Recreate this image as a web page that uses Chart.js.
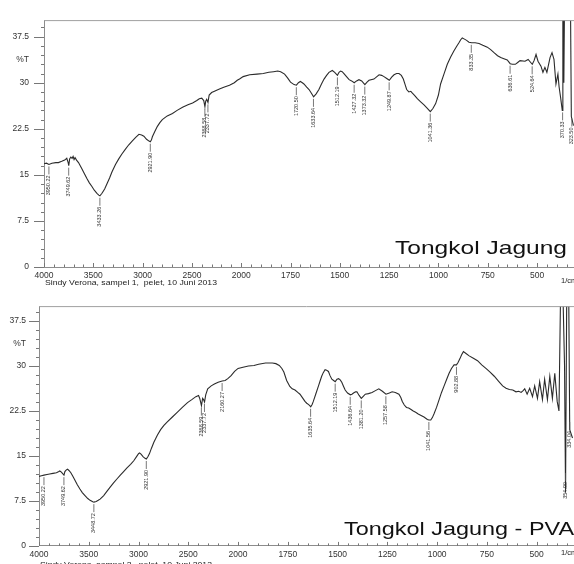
<!DOCTYPE html>
<html><head><meta charset="utf-8">
<script src="https://cdn.jsdelivr.net/npm/chart.js@4.4.1/dist/chart.umd.min.js"></script>
<style>
html,body{margin:0;padding:0;background:#fff;overflow:hidden;width:574px;height:564px}
canvas{position:absolute;left:0}
#c1{top:0}
#c2{top:288px}
</style></head><body>
<canvas id="c1" width="574" height="288"></canvas>
<canvas id="c2" width="574" height="276"></canvas>
<script>
// ---- axis labels ----
const xTickLabels = [4000,3500,3000,2500,2000,1750,1500,1250,1000,750,500];
const yTickLabels = [0,7.5,15,22.5,30,37.5];

// ---- Tongkol Jagung (top) ----
const topWn = [4000,3975,3950,3920,3880,3854,3820,3790,3769,3755,3749,3740,3728,3715,3705,3695,3685,3670,3650,3616,3590,3565,3540,3514,3490,3463,3445,3433,3412,3385,3360,3335,3310,3275,3242,3210,3174,3140,3106,3070,3037,3010,2987,2960,2935,2922,2910,2901,2875,2850,2825,2800,2750,2697,2650,2595,2540,2493,2450,2425,2400,2380,2368,2360,2350,2337,2325,2300,2260,2221,2170,2119,2070,2040,2017,1990,1957,1920,1888,1860,1836,1815,1800,1780,1765,1750,1732,1720,1710,1700,1690,1682,1668,1656,1644,1633,1620,1606,1593,1580,1567,1555,1538,1526,1512,1504,1496,1488,1479,1466,1453,1440,1427,1415,1403,1389,1373,1362,1352,1327,1312,1301,1288,1276,1262,1249,1237,1225,1212,1200,1188,1178,1168,1161,1150,1140,1132,1120,1107,1090,1073,1055,1041,1028,1014,1000,989,972,955,938,921,908,896,887,879,868,857,845,832,814,794,775,752,735,718,700,684,668,651,636,625,610,598,586,561,545,532,524,515,505,495,480,470,460,450,434,424,414,404,394,388,380,372,369,366,364,361,340,330,326,315];
const topT = [16.8,16.9,16.7,16.9,17.0,17.0,17.2,17.4,17.7,17.0,16.5,17.6,17.9,17.7,18.0,17.5,17.8,17.4,17.0,16.0,15.2,14.4,13.7,13.1,12.5,12.0,11.7,11.6,12.0,12.7,13.6,14.5,15.5,16.7,17.6,18.4,19.2,19.9,20.5,21.1,21.6,21.5,21.3,20.8,20.5,20.4,20.7,21.2,22.1,22.9,23.5,24.0,24.6,25.0,25.5,26.0,26.4,26.7,27.1,27.4,27.5,27.1,26.1,27.0,27.3,26.8,28.0,28.4,28.7,29.0,29.3,29.6,30.0,30.4,30.6,31.0,31.3,31.4,31.5,31.7,31.8,31.9,31.8,31.4,30.8,30.1,29.7,29.6,30.0,30.2,30.0,29.8,29.3,28.9,28.3,27.7,28.2,28.9,29.8,30.6,31.2,31.7,32.0,31.7,31.2,31.7,31.9,31.8,31.5,31.0,30.5,30.3,30.0,30.3,30.5,30.3,29.7,30.1,30.4,30.6,31.0,31.3,31.2,31.0,30.7,30.4,30.9,31.3,31.5,31.5,31.2,30.6,29.6,28.9,28.5,28.6,28.3,27.9,27.4,26.9,26.4,25.8,25.3,25.8,26.6,28.0,29.8,31.4,33.0,34.2,35.2,35.9,36.5,37.0,37.3,37.1,36.9,36.6,36.5,36.5,36.4,36.1,35.8,35.4,34.9,34.4,34.1,33.9,33.7,33.1,33.0,33.0,33.3,33.6,33.5,33.8,33.3,33.0,33.6,34.6,33.5,32.7,31.7,32.5,31.7,34.1,34.9,33.8,29.8,31.4,29.3,27.5,25.5,41.5,41.5,30.0,41.5,41.5,41.5,24.5,23.0];
const topPeakWn = [3950.22,3749.62,3433.26,2921.90,2368.58,2337.72,1720.50,1633.64,1512.19,1427.32,1373.32,1249.87,1041.36,833.35,636.61,524.64,370.33,323.50];
const topPeakT  = [16.7,16.5,11.6,20.4,26.1,26.8,29.6,27.7,31.2,30.0,29.7,30.4,25.3,36.5,33.1,33.0,25.5,24.5];

// ---- Tongkol Jagung - PVA (bottom) ----
const botWn = [4000,3975,3950,3920,3893,3860,3825,3800,3791,3775,3760,3749,3740,3730,3715,3707,3695,3680,3660,3640,3615,3589,3565,3538,3510,3487,3460,3448,3425,3405,3386,3350,3318,3285,3251,3215,3183,3150,3116,3080,3048,3020,3000,2990,2975,2955,2935,2922,2905,2890,2870,2846,2810,2778,2745,2711,2660,2609,2560,2508,2465,2424,2397,2385,2368,2356,2347,2337,2325,2305,2270,2238,2200,2160,2130,2103,2070,2035,2000,1975,1948,1920,1897,1862,1828,1810,1793,1780,1770,1756,1740,1728,1714,1700,1689,1676,1664,1655,1647,1640,1635,1628,1622,1610,1596,1588,1580,1572,1563,1555,1546,1538,1529,1520,1512,1503,1495,1487,1479,1470,1462,1450,1436,1428,1420,1410,1403,1392,1381,1370,1361,1345,1327,1310,1293,1275,1257,1240,1226,1210,1192,1183,1175,1165,1154,1143,1133,1120,1108,1095,1083,1066,1049,1041,1032,1024,1016,1003,990,978,965,952,940,928,915,903,895,886,877,868,855,839,818,797,776,755,734,713,692,671,654,637,620,604,590,578,568,560,548,535,521,510,496,485,471,460,446,434,421,409,397,388,380,368,360,355,349,339,334,320];
const botT = [11.6,11.7,11.8,11.9,12.0,12.1,12.2,12.4,12.5,12.3,12.0,11.8,12.4,12.6,12.8,12.7,12.5,12.2,11.6,11.0,10.2,9.5,8.9,8.4,7.9,7.6,7.35,7.3,7.4,7.6,7.8,8.4,9.1,9.8,10.5,11.2,11.8,12.4,13.0,13.6,14.2,14.9,15.4,15.5,15.3,14.9,14.6,14.5,14.9,15.4,16.3,17.3,18.5,19.4,20.1,20.7,21.5,22.3,23.1,23.9,24.4,24.9,25.1,24.6,23.4,24.6,24.4,24.0,25.2,26.2,26.7,27.0,27.3,27.5,27.6,27.9,28.4,29.1,29.6,29.8,30.0,30.1,30.3,30.5,30.5,30.4,30.1,29.6,29.0,27.6,26.6,26.2,26.0,25.6,25.3,24.7,24.1,23.8,23.6,23.4,23.2,23.6,24.1,25.3,26.7,27.5,28.3,28.9,29.4,29.3,29.1,28.4,27.8,27.6,27.4,27.8,27.9,27.7,27.3,26.6,26.0,25.5,25.2,25.3,25.5,25.7,25.7,25.1,24.6,25.0,25.3,25.4,25.6,25.9,26.2,25.8,25.3,25.5,25.7,25.6,25.3,24.8,24.1,23.5,23.1,23.0,22.8,22.5,22.3,22.0,21.8,21.5,21.1,21.0,21.0,21.4,22.0,23.1,24.4,25.6,26.7,27.8,28.8,29.6,30.2,30.2,30.6,31.2,31.9,32.4,32.1,31.7,31.3,30.9,30.2,29.6,29.0,28.3,27.5,26.7,26.3,26.1,26.0,25.7,25.8,25.6,25.9,26.2,25.3,26.3,24.9,26.7,24.6,27.4,24.4,27.8,24.4,28.3,24.6,28.8,24.1,22.5,42,42,30,8.9,42,42,19.4,18];
const botPeakWn = [3950.22,3749.62,3448.72,2921.90,2368.59,2337.72,2160.27,1635.64,1512.19,1436.64,1381.20,1257.58,1041.56,902.88,354.90,334.04];
const botPeakT  = [11.8,11.8,7.3,14.5,23.4,24.0,27.5,23.2,27.4,25.2,24.6,25.3,21.0,30.2,12.5,21.0];

// wavenumber -> axis coordinate (scale doubles below 2000 cm-1)
const toU = wn => wn >= 2000 ? 4000 - wn : 2000 + 2 * (2000 - wn);
const fromU = u => u <= 2000 ? 4000 - u : 2000 - (u - 2000) / 2;
const U_MAX = 5375;

const FONT = '"Liberation Sans", Arial, sans-serif';
const INK = '#2b2b2b';
const AXIS = '#8c8c8c';

function stretchText(ctx, text, x, y, width, align, baseline) {
  const w = ctx.measureText(text).width;
  ctx.save();
  ctx.translate(x, y);
  ctx.scale(width / w, 1);
  ctx.textAlign = align; ctx.textBaseline = baseline;
  ctx.fillText(text, 0, 0);
  ctx.restore();
}

function decor(opts) {
  return {
    id: 'decor',
    afterDatasetsDraw(chart) {
      const {ctx, chartArea: a, scales: {x, y}} = chart;
      ctx.save();
      // frame top line
      ctx.strokeStyle = '#a0a0a0'; ctx.lineWidth = 1;
      ctx.beginPath(); ctx.moveTo(a.left, a.top + 0.5); ctx.lineTo(a.right, a.top + 0.5); ctx.stroke();
      // x ticks (inside)
      ctx.strokeStyle = '#777';
      ctx.beginPath();
      x.ticks.forEach(t => {
        const px = Math.round(x.getPixelForValue(t.value)) + 0.5;
        const major = xTickLabels.includes(fromU(t.value));
        ctx.moveTo(px, a.bottom); ctx.lineTo(px, a.bottom - (major ? 4 : 2.5));
      });
      // y ticks (outside)
      y.ticks.forEach(t => {
        if (t.value === 33.75) return;
        const py = Math.round(y.getPixelForValue(t.value)) + 0.5;
        const major = yTickLabels.includes(t.value);
        ctx.moveTo(a.left, py); ctx.lineTo(a.left - (major ? 10 : 3), py);
      });
      ctx.stroke();
      // peak labels
      ctx.fillStyle = '#333'; ctx.strokeStyle = '#555'; ctx.lineWidth = 0.8;
      ctx.font = '5.5px ' + FONT;
      opts.peakWn.forEach((wn, i) => {
        const px = x.getPixelForValue(toU(wn));
        const py = y.getPixelForValue(opts.peakT[i]);
        ctx.beginPath(); ctx.moveTo(px, py + 2); ctx.lineTo(px, py + 10); ctx.stroke();
        ctx.save();
        ctx.translate(px, py + 11);
        ctx.rotate(-Math.PI / 2);
        ctx.textAlign = 'right'; ctx.textBaseline = 'middle';
        ctx.fillText(wn.toFixed(2), 0, 0);
        ctx.restore();
      });
      // title (stretched like the scan)
      ctx.fillStyle = '#111';
      ctx.font = '19px ' + FONT;
      stretchText(ctx, opts.title, opts.titleRight, opts.titleBase, opts.titleWidth, 'right', 'alphabetic');
      // footnote and unit
      ctx.fillStyle = '#222';
      ctx.font = '8px ' + FONT;
      stretchText(ctx, opts.note, opts.noteX, opts.noteY, 172, 'left', 'middle');
      ctx.font = '7.5px ' + FONT;
      ctx.textAlign = 'left'; ctx.textBaseline = 'middle';
      ctx.fillText('1/cm', 561, opts.unitY);
      ctx.restore();
    }
  };
}

function makeChart(id, wn, T, g) {
  return new Chart(document.getElementById(id), {
    type: 'line',
    data: {
      datasets: [{
        data: wn.map((w, i) => ({x: toU(w), y: T[i]})),
        borderColor: INK, borderWidth: 1.1, pointRadius: 0, tension: 0, fill: false
      }]
    },
    options: {
      responsive: false, animation: false,
      layout: {padding: {top: g.padTop, left: 0, right: 0, bottom: 0}},
      plugins: {legend: {display: false}, tooltip: {enabled: false}},
      scales: {
        x: {
          type: 'linear', min: 0, max: U_MAX, offset: false,
          afterBuildTicks: s => {
            const t = [];
            for (let u = 0; u <= U_MAX; u += 100) t.push({value: u});
            s.ticks = t;
          },
          afterFit: s => { s.height = g.xHeight; },
          grid: {display: false, drawTicks: false},
          border: {display: true, color: AXIS, width: 1},
          ticks: {
            autoSkip: false, maxRotation: 0, padding: 4, color: '#333',
            font: {family: FONT, size: 8.5},
            callback: v => xTickLabels.includes(fromU(v)) ? String(fromU(v)) : ''
          }
        },
        y: {
          type: 'linear', min: 0, max: g.yMax,
          afterBuildTicks: s => {
            const t = [];
            for (let i = 0; i <= 26; i++) t.push({value: i * 1.5});
            t.push({value: 33.75});
            t.sort((a, b) => a.value - b.value);
            s.ticks = t;
          },
          afterFit: s => { s.width = g.yWidth; },
          grid: {display: false, drawTicks: false},
          border: {display: true, color: AXIS, width: 1},
          ticks: {
            autoSkip: false, padding: g.yPad, color: '#333',
            font: {family: FONT, size: 8.5},
            callback: v => v === 33.75 ? '%T' : (yTickLabels.includes(v) ? String(v) : '')
          }
        }
      }
    },
    plugins: [decor(g)]
  });
}

makeChart('c1', topWn, topT, {
  padTop: 15, xHeight: 21, yWidth: 44, yPad: 15, yMax: 40.2,
  peakWn: topPeakWn, peakT: topPeakT,
  title: 'Tongkol Jagung', titleRight: 567, titleBase: 254, titleWidth: 172,
  note: 'Sindy Verona, sampel 1,  pelet, 10 Juni 2013', noteX: 45, noteY: 283,
  unitY: 281
});
makeChart('c2', botWn, botT, {
  padTop: 4, xHeight: 17.5, yWidth: 39, yPad: 13, yMax: 40,
  peakWn: botPeakWn, peakT: botPeakT,
  title: 'Tongkol Jagung - PVA', titleRight: 574, titleBase: 247, titleWidth: 230,
  note: 'Sindy Verona, sampel 2,  pelet, 10 Juni 2013', noteX: 40, noteY: 277,
  unitY: 265
});
</script>
</body></html>
